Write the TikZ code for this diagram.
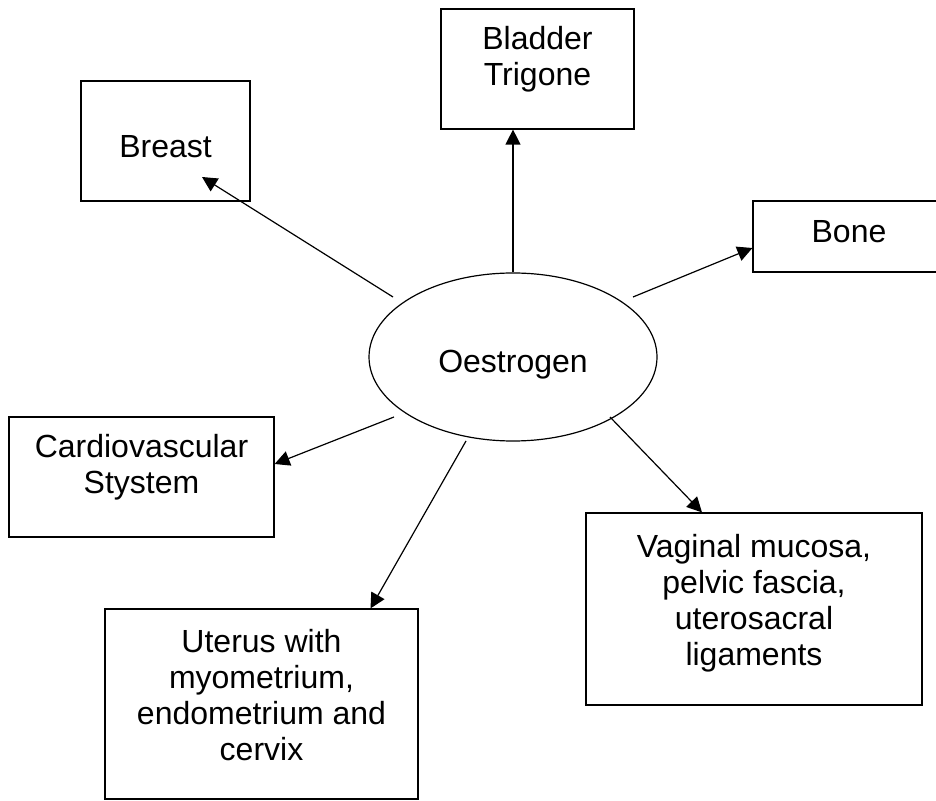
\documentclass[tikz,border=0pt]{standalone}
\usepackage{fontspec}
\setmainfont{Liberation Sans}
\usepackage{tikz}
\usetikzlibrary{arrows.meta, positioning, shapes.geometric}

\begin{document}
\begin{tikzpicture}[
  x=0.5pt, y=-0.5pt,
  box/.style={rectangle, draw=black, line width=0.6pt, inner sep=0pt},
  txt/.style={align=center, inner sep=0pt,
              font=\fontsize{16}{18}\selectfont},
  arrow/.style={-{Triangle[length=7.5pt, width=7.5pt]}, line width=0.6pt}
]
\useasboundingbox (0,0) rectangle (936,801);

% hormone in the middle
\node[ellipse, draw=black, line width=0.6pt, inner sep=0pt,
      minimum width=144pt, minimum height=84pt] (oes) at (513,357) {};
\node[txt] (oes-t) at ([shift={(0,8)}]oes.center) {Oestrogen};

% target tissues
\node[box, minimum width=96.5pt, minimum height=60pt] (bladder) at (537.5,69) {};
\node[txt] (bladder-t) at ([shift={(0,-9.5)}]bladder.center) {Bladder\\Trigone};

\node[box, minimum width=84.5pt, minimum height=60pt] (breast) at (165.5,141) {};
\node[txt] (breast-t) at ([shift={(0,6)}]breast.center) {Breast};

\node[box, minimum width=96pt, minimum height=35.5pt] (bone) at (849,236.5) {};
\node[txt] (bone-t) at ([shift={(0,-5)}]bone.center) {Bone};

\node[box, minimum width=132.5pt, minimum height=60pt] (cardio) at (141.5,477) {};
\node[txt] (cardio-t) at ([shift={(0,-10)}]cardio.center) {Cardiovascular\\Stystem};

\node[box, minimum width=156.5pt, minimum height=95pt] (uterus) at (261.5,704) {};
\node[txt] (uterus-t) at ([shift={(0,-9)}]uterus.center)
  {Uterus with\\myometrium,\\endometrium and\\cervix};

\node[box, minimum width=168pt, minimum height=96pt] (vaginal) at (754,609) {};
\node[txt] (vaginal-t) at ([shift={(0,-6)}]vaginal.center)
  {Vaginal mucosa,\\pelvic fascia,\\uterosacral\\ligaments};

% arrows out of the ellipse
\draw[arrow] (oes.north) -- ([shift={(-24.5,0)}]bladder.south);
\draw[arrow] ([shift={(-120,-60)}]oes.center) -- ([shift={(36.5,36)}]breast.center);
\draw[arrow] ([shift={(120,-60)}]oes.center) -- ([shift={(0,11.5)}]bone.west);
\draw[arrow] ([shift={(-119,60)}]oes.center) -- ([shift={(0,-13)}]cardio.east);
\draw[arrow] ([shift={(-47,84)}]oes.center) -- ([shift={(109,0)}]uterus.north);
\draw[arrow] ([shift={(97,60)}]oes.center) -- ([shift={(-52,0)}]vaginal.north);

\end{tikzpicture}
\end{document}
